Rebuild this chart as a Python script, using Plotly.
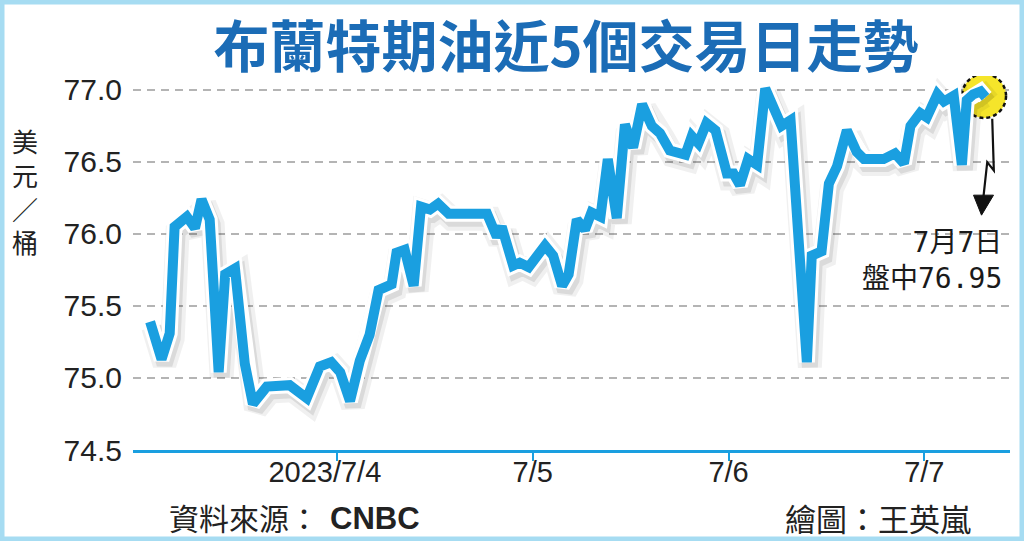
import plotly.graph_objects as go

# ---- data (hours relative to 2023-07-04 00:00, Brent price USD/bbl) ----
hours = [-22.9, -21.5, -20.5, -19.9, -18.4, -17.4, -16.6, -15.6, -14.5, -13.7,
         -12.5, -11.3, -10.3, -8.6, -5.8, -3.7, -2.1, -0.7, 0.4, 1.6,
         2.8, 4.0, 5.1, 6.7, 7.3, 8.3, 9.4, 10.3, 11.4, 12.4,
         13.7, 18.4, 19.6, 20.2, 21.6, 22.4, 23.5, 25.5, 26.5, 27.6,
         28.4, 29.4, 30.4, 31.2, 32.3, 33.2, 34.3, 35.3, 36.3, 37.4,
         38.6, 39.6, 40.8, 42.7, 43.5, 44.3, 45.3, 46.4, 47.8, 48.6,
         49.4, 50.4, 51.5, 52.5, 54.5, 55.6, 57.6, 58.2, 59.4, 60.3,
         61.3, 62.5, 63.7, 64.6, 67.0, 68.4, 69.5, 70.3, 71.5, 72.3,
         73.6, 74.4, 75.6, 76.6, 77.2, 78.0, 78.9, 79.5]
prices = [75.39, 75.13, 75.31, 76.05, 76.12, 76.04, 76.24, 76.10, 75.04, 75.72,
          75.76, 75.10, 74.82, 74.94, 74.95, 74.86, 75.08, 75.11, 75.04, 74.84,
          75.12, 75.30, 75.61, 75.65, 75.87, 75.89, 75.64, 76.19, 76.17, 76.21,
          76.14, 76.14, 75.98, 76.05, 75.78, 75.80, 75.77, 75.92, 75.85, 75.64,
          75.72, 76.10, 76.03, 76.15, 76.12, 76.52, 76.11, 76.76, 76.60, 76.90,
          76.75, 76.70, 76.58, 76.55, 76.68, 76.63, 76.77, 76.72, 76.42, 76.42,
          76.34, 76.52, 76.48, 77.01, 76.75, 76.79, 75.11, 75.85, 75.88, 76.35,
          76.47, 76.72, 76.57, 76.52, 76.52, 76.56, 76.49, 76.75, 76.84, 76.81,
          76.97, 76.92, 76.96, 76.48, 76.93, 76.97, 76.99, 76.95]
tick_hours = [0, 24, 48, 72]
tick_labels = ["2023/7/4&nbsp;&nbsp;&nbsp;", "7/5", "7/6", "7/7"]
y_ticks = [74.5, 75.0, 75.5, 76.0, 76.5, 77.0]
y_tick_labels = ["74.5", "75.0", "75.5", "76.0", "76.5", "77.0"]

# ---- layout geometry ----
W, H = 1024, 541
L, R, T, B = 133, 14, 76, 91
PW, PH = W - L - R, H - T - B
X_RANGE = [-25.0, 82.5]
Y_RANGE = [74.5, 77.097]

BLUE = "#1a9fe0"
CJK = "Noto Sans CJK TC"


def paper(px, py):
    return (px - L) / PW, (H - B - py) / PH


# pixel -> data offsets for the soft shadow
dx = 3 * (X_RANGE[1] - X_RANGE[0]) / PW
dy = 5 * (Y_RANGE[1] - Y_RANGE[0]) / PH

fig = go.Figure()
fig.add_trace(go.Scatter(x=[h + dx for h in hours], y=[p - dy for p in prices],
                         mode="lines", line=dict(color="rgba(0,0,0,0.06)", width=24),
                         hoverinfo="skip"))
fig.add_trace(go.Scatter(x=[h + dx for h in hours], y=[p - dy for p in prices],
                         mode="lines", line=dict(color="rgba(0,0,0,0.09)", width=16),
                         hoverinfo="skip"))
fig.add_trace(go.Scatter(x=hours, y=prices, mode="lines",
                         line=dict(color="white", width=16), hoverinfo="skip"))
fig.add_trace(go.Scatter(x=hours, y=prices, mode="lines",
                         line=dict(color=BLUE, width=10)))

last_x, last_y = hours[-1], prices[-1]

# highlight circle at the last point
fig.add_shape(type="circle", xref="x", yref="y", xsizemode="pixel", ysizemode="pixel",
              xanchor=last_x, yanchor=last_y, x0=-23.5, x1=20.5, y0=-20.8, y1=23.2,
              fillcolor="#f5e52a", line=dict(color="#111", width=2.5, dash="4px,3px"),
              layer="between")
# zig-zag arrow
fig.add_shape(type="path", xref="x", yref="y", xsizemode="pixel", ysizemode="pixel",
              xanchor=last_x, yanchor=last_y,
              path="M6.7,-21.6 L8.3,-73.3 L1.7,-65 L-2,-99",
              line=dict(color="#111", width=2.2), layer="above")
fig.add_shape(type="path", xref="x", yref="y", xsizemode="pixel", ysizemode="pixel",
              xanchor=last_x, yanchor=last_y,
              path="M-12,-98 L8,-98 L-4,-118 Z",
              fillcolor="#111", line=dict(color="#111", width=1), layer="above")

fig.add_annotation(x=last_x, y=last_y, xref="x", yref="y",
                   text=f"7月7日<br>盤中{last_y:.2f}", showarrow=False,
                   xanchor="right", yanchor="middle", align="right",
                   xshift=18, yshift=-163,
                   font=dict(family="DejaVu Sans Mono, " + CJK, size=28, color="#1a1a1a"))

# outer light-blue frame
fx0, fy1 = paper(0, 0)
fx1, fy0 = paper(W, H)
fig.add_shape(type="rect", xref="paper", yref="paper", x0=fx0, x1=fx1, y0=fy0, y1=fy1,
              line=dict(color="#a6dcf2", width=9), fillcolor="rgba(0,0,0,0)", layer="above")

# y-axis unit (vertical)
ux, uy = paper(25, 191)
fig.add_annotation(xref="paper", yref="paper", x=ux, y=uy, text="美<br>元<br>／<br>桶",
                   showarrow=False, xanchor="center", yanchor="middle",
                   font=dict(family=CJK, size=26, color="#222"))

# footer
sx, sy = paper(167, 517)
fig.add_annotation(xref="paper", yref="paper", x=sx, y=sy,
                   text="資料來源：", showarrow=False,
                   xanchor="left", yanchor="middle",
                   font=dict(family=CJK, size=30, color="#222"))
nx, ny = paper(328, 518)
fig.add_annotation(xref="paper", yref="paper", x=nx, y=ny,
                   text="<b>CNBC</b>", showarrow=False,
                   xanchor="left", yanchor="middle",
                   font=dict(family="Liberation Sans", size=31, color="#222"))
cx, cy = paper(973, 517)
fig.add_annotation(xref="paper", yref="paper", x=cx, y=cy,
                   text="繪圖：王英嵐", showarrow=False,
                   xanchor="right", yanchor="middle",
                   font=dict(family=CJK, size=31, color="#222"))

fig.update_layout(
    width=W, height=H, margin=dict(l=L, r=R, t=T, b=B),
    paper_bgcolor="white", plot_bgcolor="white", showlegend=False,
    title=dict(text="<b>布蘭特期油近5個交易日走勢</b>", x=566 / W, y=1 - 47 / H,
               xanchor="center", yanchor="middle", xref="container", yref="container",
               font=dict(family=CJK, size=56, color="#1b6cb6")),
)
fig.update_xaxes(range=X_RANGE, tickvals=tick_hours, ticktext=tick_labels,
                 showgrid=False, zeroline=False, showline=True, linecolor=BLUE,
                 linewidth=3, ticks="outside", ticklen=8, tickwidth=2, tickcolor=BLUE,
                 ticklabelstandoff=-14,
                 tickfont=dict(family="Liberation Sans", size=29, color="#222"))
fig.update_yaxes(range=Y_RANGE, tickvals=y_ticks, ticktext=y_tick_labels,
                 showgrid=True, gridcolor="#b4b4b4", gridwidth=1.5, griddash="8px,6px",
                 zeroline=False, showline=False, ticks="", ticklabelstandoff=10,
                 tickfont=dict(family="Liberation Sans", size=30, color="#222"))

fig.write_html("out.html", config={"displayModeBar": False},
               post_script="document.body.style.margin='0';")
